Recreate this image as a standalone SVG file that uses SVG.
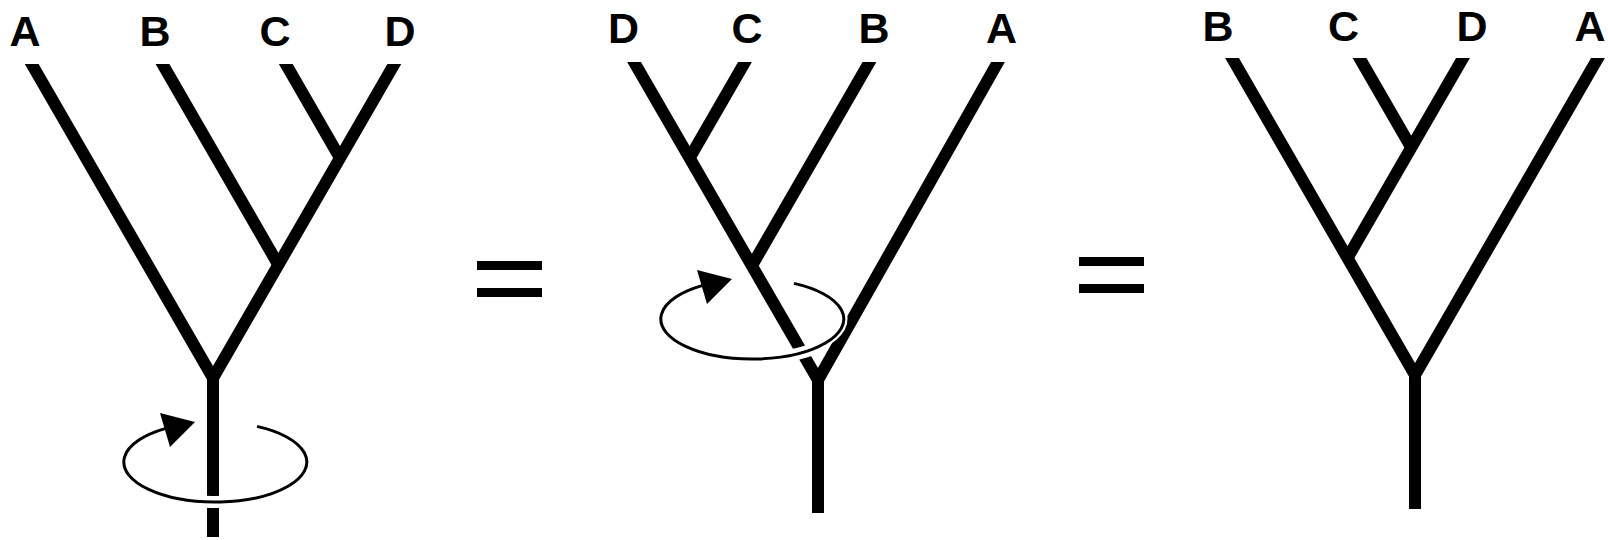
<svg xmlns="http://www.w3.org/2000/svg" xmlns:xlink="http://www.w3.org/1999/xlink" width="1608" height="540" viewBox="0 0 1608 540">
<style>
.br{fill:none;stroke:#000;stroke-width:12;stroke-linejoin:miter;stroke-linecap:butt}
.lbl{font-family:"Liberation Sans",Arial,sans-serif;font-weight:700;font-size:43px;text-anchor:middle;fill:#000}
.rot{fill:none;stroke:#000;stroke-width:3}
.halo{fill:none;stroke:#fff;stroke-width:12}
.halo-n{fill:none;stroke:#fff;stroke-width:7}
</style>
<defs>
<clipPath id="c1"><rect x="0" y="64" width="540" height="476"/></clipPath>
<clipPath id="c2"><rect x="560" y="62" width="500" height="478"/></clipPath>
<clipPath id="c3"><rect x="1150" y="58" width="458" height="482"/></clipPath>
<g id="rotArrow">
<path class="halo-n" d="M303.9,451.6 A91.5 40 0 0 1 283.5,488.8"/>
<path class="halo" d="M283.5,488.8 A91.5 40 0 0 1 136.3,482"/>
<path class="rot" d="M257,426.4 A91.5 40 0 1 1 165,428.6"/>
<polygon points="160,413 195,422 170,447" fill="#000"/>
</g>
<g id="eq"><rect x="0" y="0" width="65" height="9"/><rect x="0" y="27" width="65" height="9"/></g>
</defs>
<rect width="1608" height="540" fill="#fff"/>

<g id="tree1">
<g id="tree1-lines" clip-path="url(#c1)">
<polyline class="br" points="23.6,50 213,378 402.4,50"/>
<line class="br" x1="154.4" y1="50" x2="278.3" y2="264.7"/>
<line class="br" x1="277.7" y1="50" x2="340" y2="158"/>
<line class="br" x1="213" y1="378" x2="213" y2="537"/>
</g>
<use xlink:href="#rotArrow" href="#rotArrow"/>
<g id="tree1-labels">
<text class="lbl" x="25" y="46">A</text>
<text class="lbl" x="155" y="46">B</text>
<text class="lbl" x="275" y="46">C</text>
<text class="lbl" x="400" y="46">D</text>
</g>
</g>

<g id="equals1"><use xlink:href="#eq" href="#eq" x="477" y="261"/></g>

<g id="tree2">
<g id="tree2-lines" clip-path="url(#c2)">
<polyline class="br" points="627.1,50 818,380 1004.8,50"/>
<line class="br" x1="751.9" y1="50" x2="689.6" y2="158"/>
<line class="br" x1="876.4" y1="50" x2="751.9" y2="265.7"/>
<line class="br" x1="818" y1="380" x2="818" y2="513"/>
</g>
<use xlink:href="#rotArrow" href="#rotArrow" transform="translate(537,-143)"/>
<g id="tree2-labels">
<text class="lbl" x="623.5" y="43">D</text>
<text class="lbl" x="747" y="43">C</text>
<text class="lbl" x="874" y="43">B</text>
<text class="lbl" x="1001.5" y="43">A</text>
</g>
</g>

<g id="equals2"><use xlink:href="#eq" href="#eq" x="1079" y="257"/></g>

<g id="tree3">
<g id="tree3-lines" clip-path="url(#c3)">
<polyline class="br" points="1225.1,46 1415,375 1604.9,46"/>
<line class="br" x1="1469.9" y1="46" x2="1347.5" y2="258"/>
<line class="br" x1="1352.6" y1="46" x2="1411.2" y2="147.6"/>
<line class="br" x1="1415" y1="375" x2="1415" y2="509"/>
</g>
<g id="tree3-labels">
<text class="lbl" x="1218" y="41">B</text>
<text class="lbl" x="1343.5" y="41">C</text>
<text class="lbl" x="1472" y="41">D</text>
<text class="lbl" x="1590" y="41">A</text>
</g>
</g>
</svg>
